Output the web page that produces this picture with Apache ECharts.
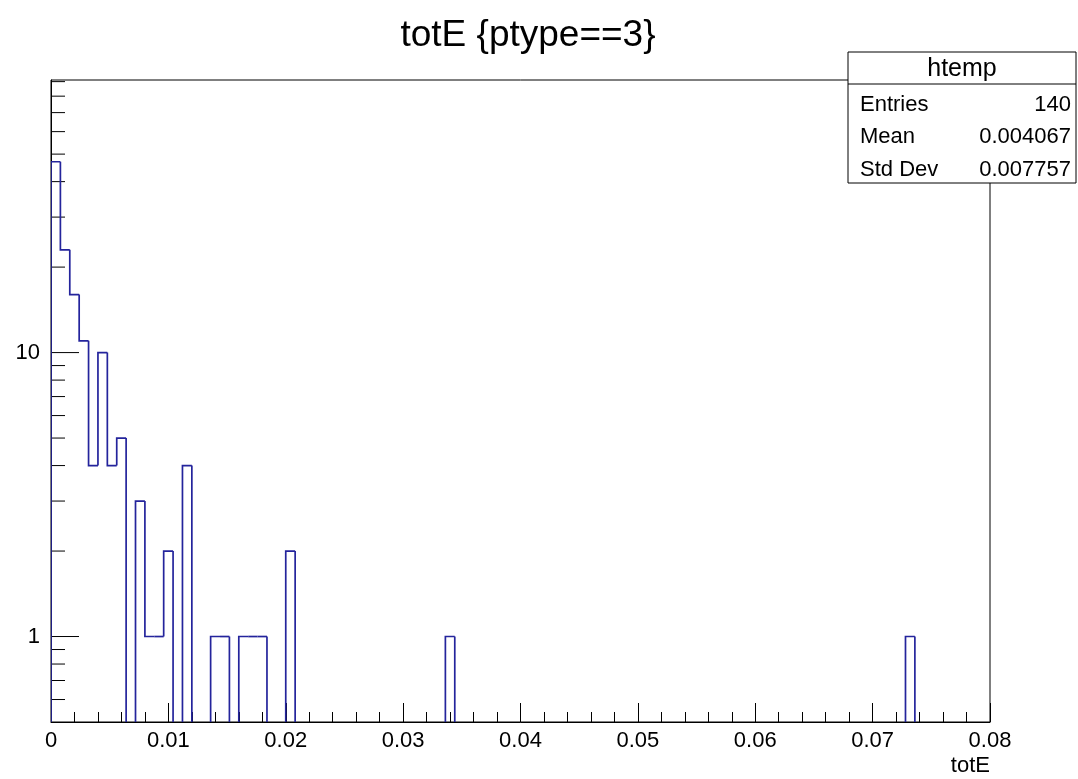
<!DOCTYPE html>
<html>
<head>
<meta charset="utf-8">
<script src="https://cdn.jsdelivr.net/npm/echarts@6/dist/echarts.min.js"></script>
<style>
  html, body { margin: 0; padding: 0; background: #ffffff; }
  #chart { width: 1078px; height: 779px; }
</style>
</head>
<body>
<div id="chart"></div>
<script>
// ---- histogram of totE for ptype==3 : 100 bins over [0, 0.08] ----
const xMin = 0;
const xMax = 0.08;
const nBins = 100;
const counts = [
  47, 23, 16, 11, 4, 10, 4, 5, 0, 3,
   1,  1,  2,  0, 4,  0, 0, 1, 1, 0,
   1,  1,  1,  0, 0,  2, 0, 0, 0, 0,
   0,  0,  0,  0, 0,  0, 0, 0, 0, 0,
   0,  0,  1,  0, 0,  0, 0, 0, 0, 0,
   0,  0,  0,  0, 0,  0, 0, 0, 0, 0,
   0,  0,  0,  0, 0,  0, 0, 0, 0, 0,
   0,  0,  0,  0, 0,  0, 0, 0, 0, 0,
   0,  0,  0,  0, 0,  0, 0, 0, 0, 0,
   0,  1,  0,  0, 0,  0, 0, 0, 0, 0
];

// axis ranges and tick marks
const yMin = 0.5;
const yMax = 91.2;
const xTickStep = 0.01;
const yTickValues = [0.6, 0.7, 0.8, 0.9, 1, 2, 3, 4, 5, 6, 7, 8, 9, 10, 20, 30, 40, 50, 60, 70, 80, 90];

// statistics panel
const statsName = 'htemp';
const statsLabels = ['Entries', 'Mean', 'Std Dev'];
const statsValues = ['140', '0.004067', '0.007757'];

const titleText = 'totE {ptype==3}';
const xAxisName = 'totE';

const FONT = '"Liberation Sans", Arial, Helvetica, sans-serif';
const LINE_COLOR = '#24249c';

// one record per bin: [low edge, high edge, count, count of previous bin]
const binWidth = (xMax - xMin) / nBins;
const histData = counts.map((c, i) => [
  xMin + i * binWidth,
  xMin + (i + 1) * binWidth,
  c,
  i > 0 ? counts[i - 1] : 0
]);

function renderHist(params, api) {
  const lo = api.value(0), hi = api.value(1);
  const c = api.value(2), prev = api.value(3);
  const cs = params.coordSys;
  const bottom = cs.y + cs.height;
  const yOf = v => (v > 0 ? api.coord([lo, v])[1] : bottom);
  const x0 = api.coord([lo, 1])[0];
  const x1 = api.coord([hi, 1])[0];
  const y = yOf(c), yp = yOf(prev);
  const pts = [];
  if (c > 0 || prev > 0) pts.push([x0, yp], [x0, y]);
  if (c > 0) {
    if (!pts.length) pts.push([x0, y]);
    pts.push([x1, y]);
  }
  if (pts.length < 2) return null;
  return {
    type: 'polyline',
    shape: { points: pts },
    style: { stroke: LINE_COLOR, lineWidth: 1.7, fill: null },
    silent: true
  };
}

function renderYTick(params, api) {
  const v = api.value(1);
  const p = api.coord([xMin, v]);
  const lg = Math.log10(v);
  const major = Math.abs(lg - Math.round(lg)) < 1e-9;
  const len = major ? 28 : 14;
  return {
    type: 'line',
    shape: { x1: p[0], y1: p[1], x2: p[0] + len, y2: p[1] },
    style: { stroke: '#000', lineWidth: 1 },
    silent: true
  };
}

const chart = echarts.init(document.getElementById('chart'), null, { renderer: 'canvas' });

const boxX = 848, boxY = 52, boxW = 228, boxH = 131, headH = 32, rowH = 32.5;

chart.setOption({
  backgroundColor: '#ffffff',
  animation: false,
  title: {
    text: titleText,
    left: 523,
    top: 12,
    textAlign: 'center',
    textStyle: { fontFamily: FONT, fontSize: 37, fontWeight: 'normal', color: '#000' }
  },
  grid: {
    left: 51, right: 88, top: 80, bottom: 57,
    show: true, borderColor: '#000', borderWidth: 1, backgroundColor: 'transparent'
  },
  xAxis: {
    type: 'value',
    min: xMin,
    max: xMax,
    interval: xTickStep,
    name: xAxisName,
    nameLocation: 'end',
    nameGap: 0,
    nameTextStyle: {
      fontFamily: FONT, fontSize: 22, color: '#000',
      align: 'right', verticalAlign: 'top', padding: [33, 0, 0, 0]
    },
    axisLine: { show: true, lineStyle: { color: '#000', width: 1 } },
    axisTick: { show: true, inside: true, length: 19, lineStyle: { color: '#000', width: 1 } },
    minorTick: { show: true, splitNumber: 5, length: 10, lineStyle: { color: '#000', width: 1 } },
    splitLine: { show: false },
    axisLabel: {
      fontFamily: FONT, fontSize: 22, color: '#000', margin: 8,
      formatter: v => String(parseFloat(v.toFixed(4)))
    }
  },
  yAxis: {
    type: 'log',
    logBase: 10,
    min: yMin,
    max: yMax,
    axisLine: { show: true, lineStyle: { color: '#000', width: 1 } },
    axisTick: { show: false },
    splitLine: { show: false },
    axisLabel: {
      fontFamily: FONT, fontSize: 22, color: '#000', margin: 11,
      formatter: v => {
        const lg = Math.log10(v);
        return Math.abs(lg - Math.round(lg)) < 1e-6 ? String(Math.round(v)) : '';
      }
    }
  },
  series: [
    {
      type: 'custom',
      name: 'yticks',
      renderItem: renderYTick,
      data: yTickValues.map(v => [xMin, v]),
      encode: { x: 0, y: 1 },
      clip: false,
      z: 3
    },
    {
      type: 'custom',
      name: 'htemp',
      renderItem: renderHist,
      data: histData,
      encode: { x: [0, 1], y: 2 },
      clip: true,
      z: 4
    }
  ],
  graphic: [
    {
      type: 'group',
      z: 100,
      children: [
        {
          type: 'rect',
          shape: { x: boxX, y: boxY, width: boxW, height: boxH },
          style: { fill: '#fff', stroke: '#000', lineWidth: 1 }
        },
        {
          type: 'line',
          shape: { x1: boxX, y1: boxY + headH, x2: boxX + boxW, y2: boxY + headH },
          style: { stroke: '#000', lineWidth: 1 }
        },
        {
          type: 'text',
          style: {
            x: boxX + boxW / 2, y: boxY + headH / 2 + 1, text: statsName,
            font: '25px ' + FONT, fill: '#000', align: 'center', verticalAlign: 'middle'
          }
        }
      ].concat(
        statsLabels.map((t, i) => ({
          type: 'text',
          style: {
            x: boxX + 12, y: boxY + headH + rowH * (i + 0.55) + 3, text: t,
            font: '22px ' + FONT, fill: '#000', align: 'left', verticalAlign: 'middle'
          }
        })),
        statsValues.map((t, i) => ({
          type: 'text',
          style: {
            x: boxX + boxW - 5, y: boxY + headH + rowH * (i + 0.55) + 3, text: t,
            font: '22px ' + FONT, fill: '#000', align: 'right', verticalAlign: 'middle'
          }
        }))
      )
    }
  ]
});
</script>
</body>
</html>
